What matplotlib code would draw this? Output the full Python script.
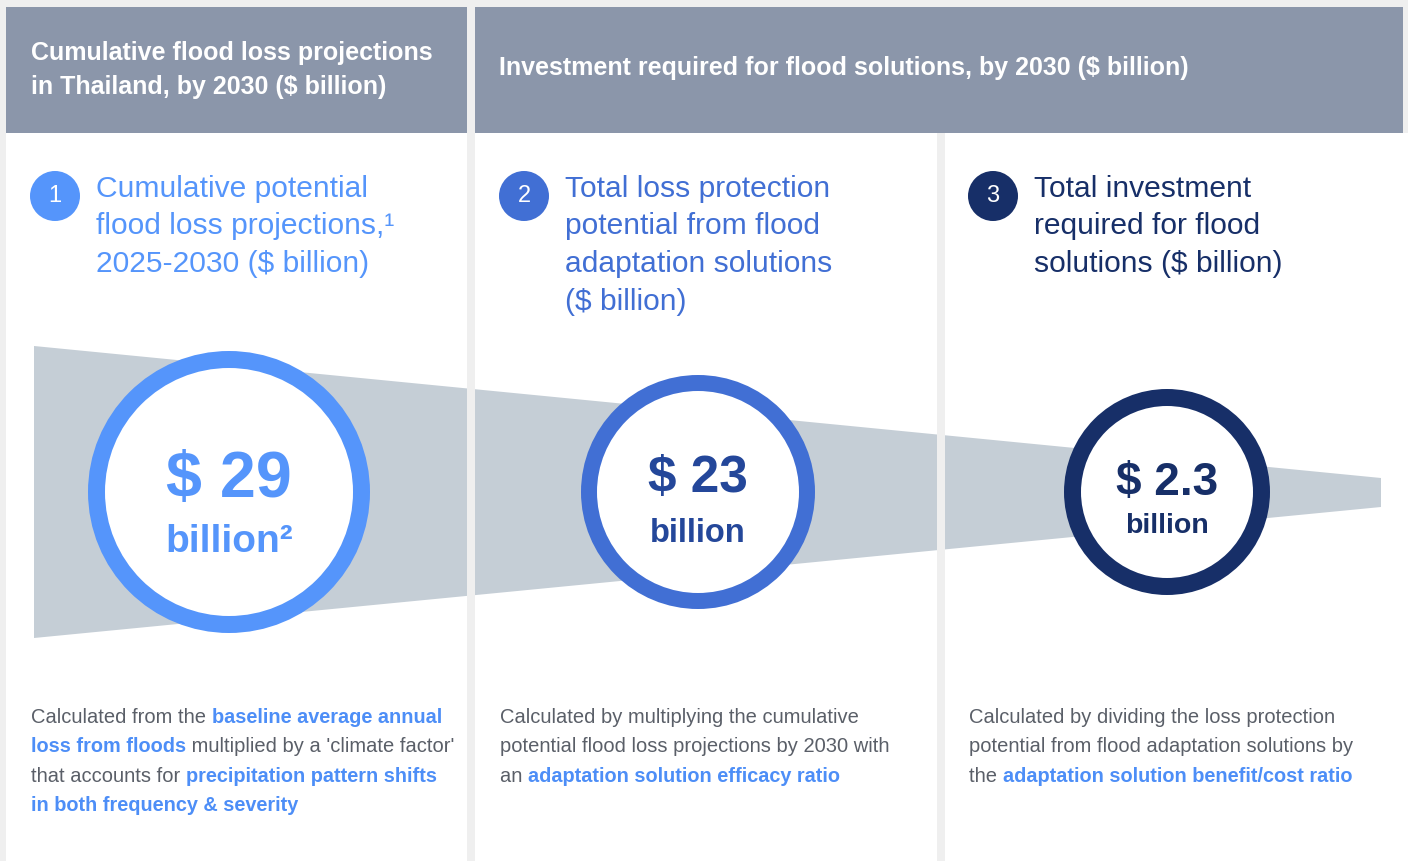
import matplotlib
matplotlib.use("Agg")
import matplotlib.pyplot as plt
from matplotlib.patches import Rectangle, Circle, Polygon

plt.rcParams['font.family'] = ['Liberation Sans', 'DejaVu Sans']

# ---- data ----
header_titles = ["Cumulative flood loss projections\nin Thailand, by 2030 ($ billion)",
                 "Investment required for flood solutions, by 2030 ($ billion)"]
step_numbers = ["1", "2", "3"]
step_titles = [
    ["Cumulative potential", "flood loss projections,\u00b9", "2025-2030 ($ billion)"],
    ["Total loss protection", "potential from flood", "adaptation solutions", "($ billion)"],
    ["Total investment", "required for flood", "solutions ($ billion)"],
]
values = ["$ 29", "$ 23", "$ 2.3"]
value_units = ["billion\u00b2", "billion", "billion"]
# description lines: list of (text, highlighted)
descriptions = [
    [[("Calculated from the ", False), ("baseline average annual", True)],
     [("loss from floods", True), (" multiplied by a 'climate factor'", False)],
     [("that accounts for ", False), ("precipitation pattern shifts", True)],
     [("in both frequency & severity", True)]],
    [[("Calculated by multiplying the cumulative", False)],
     [("potential flood loss projections by 2030 with", False)],
     [("an ", False), ("adaptation solution efficacy ratio", True)]],
    [[("Calculated by dividing the loss protection", False)],
     [("potential from flood adaptation solutions by", False)],
     [("the ", False), ("adaptation solution benefit/cost ratio", True)]],
]

# ---- styles ----
BG = "#efefef"
HEADER = "#8b96aa"
FUNNEL = "#c5ced6"
ring_colors = ["#5595fb", "#416fd4", "#172f68"]
value_colors = ["#5595fb", "#24479a", "#172f68"]
title_colors = ["#5595fb", "#416fd4", "#172f68"]
GREY_TXT = "#5a5f68"
HILITE = "#4d8ef7"

W, H = 1408, 861
fig = plt.figure(figsize=(W / 100, H / 100), dpi=100)
fig.patch.set_facecolor(BG)
ax = fig.add_axes([0, 0, 1, 1])
ax.set_xlim(0, W)
ax.set_ylim(H, 0)
ax.axis("off")

# panels
panel_x = [(6, 467), (475, 937), (945, 1408)]
for x0, x1 in panel_x:
    ax.add_patch(Rectangle((x0, 133), x1 - x0, H - 133, fc="white", ec="none", zorder=1))
ax.add_patch(Rectangle((6, 7), 461, 126, fc=HEADER, ec="none", zorder=1))
ax.add_patch(Rectangle((475, 7), 928, 126, fc=HEADER, ec="none", zorder=1))

# funnel
ax.add_patch(Polygon([(34, 346), (1381, 478), (1381, 507), (34, 638)], closed=True,
                     fc=FUNNEL, ec="none", zorder=2))
for x0, x1 in [(467, 475), (937, 945)]:
    ax.add_patch(Rectangle((x0, 133), x1 - x0, H - 133, fc=BG, ec="none", zorder=3))

# header texts
ax.text(31, 60, "Cumulative flood loss projections", color="white", fontsize=18,
        fontweight="bold", va="baseline", ha="left", zorder=5)
ax.text(31, 94, "in Thailand, by 2030 ($ billion)", color="white", fontsize=18,
        fontweight="bold", va="baseline", ha="left", zorder=5)
ax.text(499, 75, header_titles[1], color="white", fontsize=18,
        fontweight="bold", va="baseline", ha="left", zorder=5)

# badges and titles
badge_x = [55, 524, 993]
title_x = [96, 565, 1034]
for i in range(3):
    ax.add_patch(Circle((badge_x[i], 196), 25, fc=ring_colors[i], ec="none", zorder=5))
    ax.text(badge_x[i], 196, step_numbers[i], color="white", fontsize=17,
            ha="center", va="center", zorder=6)
    for j, line in enumerate(step_titles[i]):
        ax.text(title_x[i], 197 + j * 37.5, line, color=title_colors[i], fontsize=21.6,
                ha="left", va="baseline", zorder=5)

# circles
circ_cx = [229, 698, 1167]
circ_r = [141, 117, 103]
ring_w = [17, 16, 17]
val_size = [46.5, 37, 33]
val_base = [497, 492, 495]
unit_size = [28, 23.5, 20.5]
unit_base = [552, 542, 533]
for i in range(3):
    ax.add_patch(Circle((circ_cx[i], 492), circ_r[i], fc=ring_colors[i], ec="none", zorder=4))
    ax.add_patch(Circle((circ_cx[i], 492), circ_r[i] - ring_w[i], fc="white", ec="none", zorder=4))
    ax.text(circ_cx[i], val_base[i], values[i], color=value_colors[i], fontsize=val_size[i],
            fontweight="bold", ha="center", va="baseline", zorder=5)
    ax.text(circ_cx[i], unit_base[i], value_units[i], color=value_colors[i], fontsize=unit_size[i],
            fontweight="bold", ha="center", va="baseline", zorder=5)

# descriptions with mixed styles
fig.canvas.draw()
renderer = fig.canvas.get_renderer()


def advance(txt, size, weight):
    t1 = ax.text(0, 0, txt + "|", fontsize=size, fontweight=weight)
    t2 = ax.text(0, 0, "|", fontsize=size, fontweight=weight)
    w = t1.get_window_extent(renderer).width - t2.get_window_extent(renderer).width
    t1.remove()
    t2.remove()
    return w


desc_x = [31, 500, 969]
SIZE_REG = 14.5
SIZE_BOLD = 14.3
for i in range(3):
    for j, line in enumerate(descriptions[i]):
        x = desc_x[i]
        y = 723 + j * 29.3
        for txt, hi in line:
            weight = "bold" if hi else "normal"
            size = SIZE_BOLD if hi else SIZE_REG
            ax.text(x, y, txt, color=HILITE if hi else GREY_TXT, fontsize=size,
                    fontweight=weight, ha="left", va="baseline", zorder=5)
            x += advance(txt, size, weight)

fig.savefig("out.png", dpi=100, facecolor=BG)
